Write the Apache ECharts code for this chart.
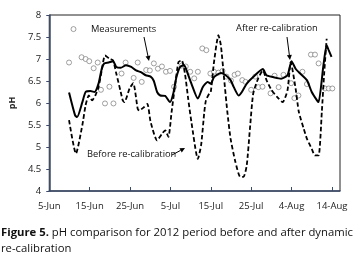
<!DOCTYPE html>
<html>
<head>
<meta charset="utf-8">
<script src="https://cdn.jsdelivr.net/npm/echarts@6/dist/echarts.min.js"></script>
<style>
  html, body { margin: 0; padding: 0; background: #fff; }
  #chart { width: 362px; height: 265px; }
</style>
</head>
<body>
<div id="chart"></div>
<script>
// x values are days counted from 5-Jun (2012)
const tickLabels = ['5-Jun', '15-Jun', '25-Jun', '5-Jul', '15-Jul', '25-Jul', '4-Aug', '14-Aug']

// measurements (open circles)
const measDays = [4.9, 6.0, 8.0, 9.0, 9.9, 11.0, 12.0, 12.8, 13.8, 14.9, 15.9, 17.9, 18.9, 20.9, 21.9, 22.9, 24.0, 24.9, 25.9, 26.9, 27.9, 28.9, 29.9, 30.9, 32.8, 33.8, 34.9, 35.9, 36.8, 37.9, 38.9, 39.9, 40.8, 41.9, 42.9, 43.9, 45.0, 45.9, 46.7, 47.8, 48.6, 50.0, 51.0, 51.8, 52.8, 54.8, 55.8, 56.8, 58.0, 59.9, 60.7, 61.7, 62.7, 63.8, 64.8, 65.8, 66.7, 68.3, 69.2, 70.1]
const measPH = [6.92, 7.68, 7.04, 7.0, 6.95, 6.79, 6.92, 6.30, 5.99, 6.37, 5.99, 6.67, 6.92, 6.57, 6.92, 6.48, 6.75, 6.74, 6.9, 6.78, 6.83, 6.71, 6.73, 6.37, 6.85, 6.83, 6.71, 6.56, 6.71, 7.24, 7.2, 6.67, 6.71, 6.69, 6.73, 6.6, 6.51, 6.64, 6.67, 6.52, 6.48, 6.3, 6.6, 6.36, 6.37, 6.22, 6.62, 6.36, 6.64, 6.45, 6.11, 6.17, 6.71, 6.43, 7.1, 7.1, 6.9, 6.33, 6.33, 6.33]

// after re-calibration (solid line)
const afterDays = [4.9, 6.4, 6.9, 8.2, 9.0, 10.2, 11.2, 12.2, 13.0, 13.6, 14.7, 15.8, 16.6, 17.7, 19.0, 20.3, 21.5, 22.7, 23.9, 25.1, 25.9, 26.7, 27.5, 28.7, 29.9, 30.7, 31.5, 32.4, 33.4, 34.0, 35.2, 36.8, 38.0, 39.2, 40.0, 40.8, 42.5, 43.7, 44.9, 45.7, 46.9, 47.7, 48.9, 50.5, 52.9, 53.8, 55.4, 57.4, 59.0, 60.0, 61.0, 61.8, 63.8, 65.0, 66.3, 66.7, 67.9, 68.7, 69.2, 69.9]
const afterPH = [6.24, 5.72, 5.68, 6.02, 6.25, 6.27, 6.25, 6.44, 6.78, 6.9, 6.92, 6.95, 6.82, 6.8, 6.86, 6.82, 6.74, 6.7, 6.63, 6.6, 6.5, 6.25, 6.17, 6.16, 6.02, 6.21, 6.59, 6.82, 6.86, 6.74, 6.44, 6.1, 6.36, 6.48, 6.44, 6.59, 6.68, 6.63, 6.52, 6.36, 6.17, 6.25, 6.44, 6.59, 6.77, 6.63, 6.59, 6.55, 6.63, 6.95, 6.78, 6.7, 6.52, 6.25, 6.06, 6.02, 6.86, 7.31, 7.2, 7.05]

// before re-calibration (dashed line)
const beforeDays = [4.9, 6.6, 8.2, 9.0, 9.8, 10.6, 11.4, 12.2, 13.0, 13.8, 15.0, 15.8, 16.6, 17.7, 18.2, 18.6, 19.9, 20.8, 21.9, 22.3, 23.5, 24.3, 25.1, 26.7, 27.9, 28.7, 29.5, 30.3, 31.1, 32.0, 32.8, 33.6, 34.4, 35.2, 36.8, 37.6, 38.4, 38.8, 39.6, 40.0, 40.8, 41.9, 42.5, 43.3, 44.1, 44.9, 46.1, 47.3, 48.1, 48.9, 49.7, 50.5, 51.7, 52.9, 53.8, 55.0, 56.4, 57.8, 59.0, 59.8, 61.0, 61.8, 63.0, 63.8, 65.0, 65.8, 66.7, 67.5, 68.1, 68.7]
const beforePH = [5.61, 4.85, 5.5, 5.95, 6.17, 6.06, 6.17, 6.36, 6.74, 7.08, 7.0, 6.97, 6.67, 6.25, 6.06, 6.02, 6.33, 6.45, 5.87, 5.83, 5.91, 5.98, 5.57, 5.15, 5.3, 5.38, 5.23, 5.8, 6.36, 6.93, 6.97, 6.67, 6.1, 5.57, 4.73, 5.04, 5.8, 6.06, 6.21, 6.25, 6.93, 7.54, 7.31, 6.55, 5.8, 5.19, 4.66, 4.32, 4.32, 4.58, 5.42, 6.21, 6.55, 6.74, 6.52, 6.3, 6.14, 6.02, 6.29, 6.93, 6.33, 5.8, 5.42, 5.19, 4.96, 4.81, 4.81, 5.8, 6.7, 7.46]

const zip = (xs, ys) => xs.map((x, i) => [x, ys[i]])

const FONT = 'Open Sans'

// annotation arrow: line plus a small filled head
function arrow(x1, y1, x2, y2) {
  const a = Math.atan2(y2 - y1, x2 - x1)
  const L = 5, W = 2.5
  const bx = x2 - L * Math.cos(a), by = y2 - L * Math.sin(a)
  const px = -Math.sin(a) * W, py = Math.cos(a) * W
  return [
    { type: 'line', shape: { x1: x1, y1: y1, x2: bx, y2: by }, style: { stroke: '#000', lineWidth: 1 } },
    { type: 'polygon', shape: { points: [[x2, y2], [bx + px, by + py], [bx - px, by - py]] }, style: { fill: '#000' } }
  ]
}

const chart = echarts.init(document.getElementById('chart'))

const option = {
  animation: false,
  grid: {
    left: 44, right: 22, top: 15, bottom: 74,
    show: true, borderColor: '#222', borderWidth: 1
  },
  xAxis: {
    type: 'value',
    min: 0, max: 72, interval: 10,
    splitLine: { show: false },
    axisLine: { lineStyle: { color: '#3a4a6a', width: 1.5 } },
    axisTick: { show: true, inside: true, length: 4, lineStyle: { color: '#3a4a6a' } },
    axisLabel: {
      color: '#222', fontFamily: FONT, fontSize: 9.5, margin: 10,
      showMaxLabel: false,
      formatter: v => (v % 10 === 0 ? tickLabels[v / 10] : '')
    }
  },
  yAxis: {
    type: 'value',
    min: 4, max: 8, interval: 0.5,
    name: 'pH', nameLocation: 'middle', nameGap: 30,
    nameTextStyle: { fontFamily: FONT, fontSize: 9, fontWeight: 'bold', color: '#222' },
    splitLine: { show: false },
    axisLine: { show: true, lineStyle: { color: '#3a4a6a', width: 1.5 } },
    axisTick: { show: true, length: 3, lineStyle: { color: '#3a4a6a' } },
    axisLabel: { color: '#222', fontFamily: FONT, fontSize: 9.5, margin: 8 }
  },
  series: [
    {
      name: 'Measurements', type: 'scatter', data: zip(measDays, measPH),
      symbol: 'circle', symbolSize: 5,
      itemStyle: { color: '#fff', borderColor: '#7a7a7a', borderWidth: 0.9 },
      z: 1
    },
    {
      name: 'Before re-calibration', type: 'line', data: zip(beforeDays, beforePH),
      showSymbol: false, smooth: 0.2,
      lineStyle: { color: '#000', width: 1.8, type: [4.5, 2.5] },
      z: 2
    },
    {
      name: 'After re-calibration', type: 'line', data: zip(afterDays, afterPH),
      showSymbol: false, smooth: 0.2,
      lineStyle: { color: '#000', width: 2 },
      z: 3
    }
  ],
  graphic: [
    { type: 'text', left: 91, top: 25, style: { text: 'Measurements', font: '9.3px "Open Sans"', fill: '#111' } },
    { type: 'text', left: 236, top: 24, style: { text: 'After re-calibration', font: '9.3px "Open Sans"', fill: '#111' } },
    { type: 'text', left: 87, top: 150, style: { text: 'Before re-calibration', font: '9.3px "Open Sans"', fill: '#111' } },
    ...arrow(144, 37, 149, 61),
    ...arrow(287, 37, 290, 60),
    ...arrow(172, 155, 185, 148),
    {
      type: 'text', left: 1, top: 227,
      style: {
        rich: {
          b: { fontFamily: FONT, fontSize: 11.3, fontWeight: 'bold', fill: '#111', lineHeight: 16 },
          n: { fontFamily: FONT, fontSize: 11.3, fill: '#111', lineHeight: 16 }
        },
        text: '{b|Figure 5.}{n| pH comparison for 2012 period before and after dynamic}\n{n|re-calibration}'
      }
    }
  ]
}

chart.setOption(option)
</script>
</body>
</html>
